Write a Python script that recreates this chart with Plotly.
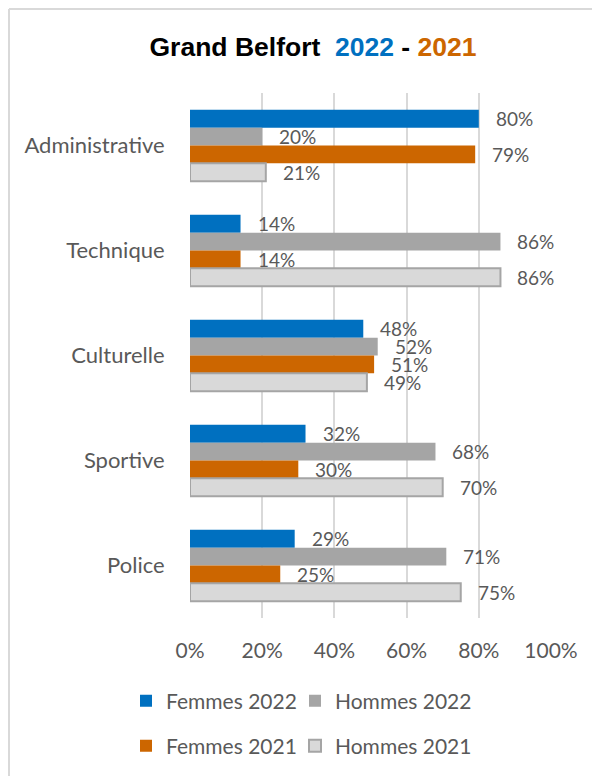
import plotly.graph_objects as go

categories = ["Administrative", "Technique", "Culturelle", "Sportive", "Police"]
series_names = ["Femmes 2022", "Hommes 2022", "Femmes 2021", "Hommes 2021"]
femmes_2022 = [80, 14, 48, 32, 29]
hommes_2022 = [20, 86, 52, 68, 71]
femmes_2021 = [79, 14, 51, 30, 25]
hommes_2021 = [21, 86, 49, 70, 75]
x_ticks = [0, 20, 40, 60, 80, 100]

series_values = [femmes_2022, hommes_2022, femmes_2021, hommes_2021]
colors = ["#0070C0", "#A5A5A5", "#CC6600", "#D9D9D9"]
line_colors = ["#0070C0", "#A5A5A5", "#CC6600", "#A5A5A5"]
line_widths = [0, 0, 0, 2]
legend_ids = ["legend", "legend2", "legend3", "legend4"]
# legend positions in page pixels (x of legend box left, y of row centre)
legend_pos = [(126, 701), (295, 701), (126, 746), (295, 746)]

OFF = 8  # page body margin
W, H = 600 - OFF, 776 - OFF
L = 190 - OFF
T = 93 - OFF
R = W - (551 - OFF)
B = H - (618 - OFF)
pw, ph = W - L - R, H - T - B

def px_x(px):
    return (px - OFF - L) / pw

def px_y(py):
    return (H - B - (py - OFF)) / ph

FONT = "Lato"
TXT = "#595959"
bw = 0.17

fig = go.Figure()
annotations = []
for k, (name, vals) in enumerate(zip(series_names, series_values)):
    off = (k - 1.5) * bw
    ys = [i + off for i in range(len(categories))]
    fig.add_trace(go.Bar(
        x=vals, y=ys, orientation="h", width=bw, name=name, showlegend=True,
        marker=dict(color=colors[k], line=dict(color=line_colors[k], width=line_widths[k])),
        legend=legend_ids[k], hoverinfo="x+name",
    ))
    for v, yy in zip(vals, ys):
        annotations.append(dict(
            x=v, y=yy, xref="x", yref="y", text=f"{v}%", showarrow=False,
            xanchor="left", yanchor="middle", xshift=15,
            font=dict(family=FONT, size=19, color=TXT),
        ))

legend_layouts = {}
for lid, (lx, ly) in zip(legend_ids, legend_pos):
    legend_layouts[lid] = dict(
        orientation="h", x=px_x(lx), xanchor="left", y=px_y(ly), yanchor="middle",
        font=dict(family=FONT, size=21, color=TXT),
        itemwidth=30, bgcolor="rgba(0,0,0,0)", visible=True,
    )

fig.update_layout(
    width=W, height=H, barmode="overlay", showlegend=True,
    margin=dict(l=L, r=R, t=T, b=B, autoexpand=False),
    paper_bgcolor="white", plot_bgcolor="white",
    title=dict(
        text="Grand Belfort&nbsp; <span style='color:#0070C0'>2022</span> - <span style='color:#CC6600'>2021</span>",
        font=dict(family="Liberation Sans", size=26.5, color="black", weight="bold"),
        x=px_x(313), xref="paper", xanchor="center",
        y=1 - (47 - OFF) / H, yref="container", yanchor="middle",
    ),
    xaxis=dict(
        range=[0, 100], tickvals=x_ticks, ticktext=[f"{t}%" for t in x_ticks],
        showgrid=True, gridcolor="#D9D9D9", gridwidth=1.5, zeroline=False,
        showline=False, ticks="outside", ticklen=14, tickcolor="rgba(0,0,0,0)",
        tickfont=dict(family=FONT, size=21, color=TXT), fixedrange=True,
    ),
    yaxis=dict(
        range=[4.5, -0.5], tickvals=list(range(len(categories))), ticktext=categories,
        showgrid=False, zeroline=False, showline=False,
        ticks="outside", ticklen=20, tickcolor="rgba(0,0,0,0)",
        tickfont=dict(family=FONT, size=22, color=TXT), fixedrange=True,
    ),
    annotations=annotations,
    shapes=[
        dict(type="line", xref="paper", yref="paper", x0=px_x(9), x1=px_x(602), y0=px_y(9), y1=px_y(9),
             line=dict(color="#D9D9D9", width=2)),
        dict(type="line", xref="paper", yref="paper", x0=px_x(9), x1=px_x(9), y0=px_y(9), y1=px_y(780),
             line=dict(color="#D9D9D9", width=2)),
    ],
    **legend_layouts,
)

fig.write_html("out.html")
